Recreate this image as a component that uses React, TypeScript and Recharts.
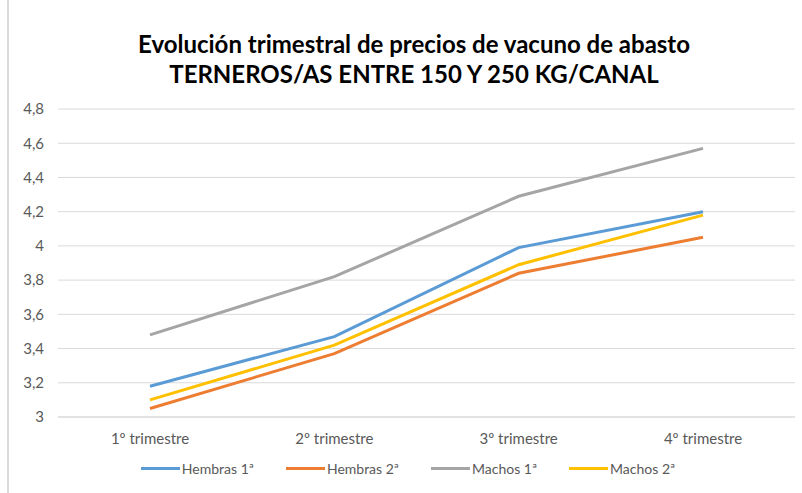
import React from 'react';
import { LineChart, Line, XAxis, YAxis, CartesianGrid, Legend } from 'recharts';

const categories = ['1º trimestre', '2º trimestre', '3º trimestre', '4º trimestre'];
const hembras1 = [3.18, 3.47, 3.99, 4.2];
const hembras2 = [3.05, 3.37, 3.84, 4.05];
const machos1 = [3.48, 3.82, 4.29, 4.57];
const machos2 = [3.1, 3.42, 3.89, 4.18];
const yTicks = [3, 3.2, 3.4, 3.6, 3.8, 4, 4.2, 4.4, 4.6, 4.8];

const series = [
  { key: 'h1', name: 'Hembras 1ª', color: '#5B9BD5' },
  { key: 'h2', name: 'Hembras 2ª', color: '#ED7D31' },
  { key: 'm1', name: 'Machos 1ª', color: '#A5A5A5' },
  { key: 'm2', name: 'Machos 2ª', color: '#FFC000' },
];

const data = categories.map((name, i) => ({
  name,
  h1: hembras1[i],
  h2: hembras2[i],
  m1: machos1[i],
  m2: machos2[i],
}));

const fmt = (v: number) => String(v).replace('.', ',');

function LegendRow() {
  return (
    <div style={{ display: 'flex', justifyContent: 'center', paddingLeft: 21, fontSize: 14, color: '#595959', height: 20, alignItems: 'center' }}>
      {series.map((s) => (
        <div key={s.key} style={{ display: 'flex', alignItems: 'center', margin: '0 16px' }}>
          <span style={{ display: 'inline-block', width: 39, height: 3, background: s.color, marginRight: 2 }} />
          <span>{s.name}</span>
        </div>
      ))}
    </div>
  );
}

export default function App() {
  return (
    <div style={{ position: 'absolute', left: 0, top: 0, width: 802, height: 493, background: '#fff', fontFamily: 'Lato, sans-serif', overflow: 'hidden' }}>
      <div style={{ position: 'absolute', left: 7, top: 0, width: 2, height: 493, background: '#d9d9d9' }} />
      <div style={{ position: 'absolute', top: 29, left: 0, width: 828, textAlign: 'center', fontWeight: 700, fontSize: 24, lineHeight: '30px', color: '#000' }}>
        Evolución trimestral de precios de vacuno de abasto
        <br />
        TERNEROS/AS ENTRE 150 Y 250 KG/CANAL
      </div>
      <LineChart width={802} height={493} data={data} margin={{ top: 109, right: 7, left: 0, bottom: 26 }}>
        <CartesianGrid vertical={false} stroke="#d9d9d9" />
        <XAxis
          dataKey="name"
          padding={{ left: 92, right: 92 }}
          tickLine={false}
          axisLine={{ stroke: '#d9d9d9' }}
          tickMargin={10}
          height={30}
          tick={{ fill: '#595959', fontSize: 15 }}
        />
        <YAxis
          domain={[3, 4.8]}
          ticks={yTicks}
          width={58}
          axisLine={false}
          tickLine={false}
          tickMargin={8}
          tickFormatter={fmt}
          tick={{ fill: '#595959', fontSize: 15 }}
        />
        <Legend verticalAlign="bottom" wrapperStyle={{ bottom: 15 }} content={() => <LegendRow />} />
        {series.map((s) => (
          <Line
            key={s.key}
            type="linear"
            dataKey={s.key}
            name={s.name}
            stroke={s.color}
            strokeWidth={3}
            dot={false}
            isAnimationActive={false}
          />
        ))}
      </LineChart>
    </div>
  );
}
